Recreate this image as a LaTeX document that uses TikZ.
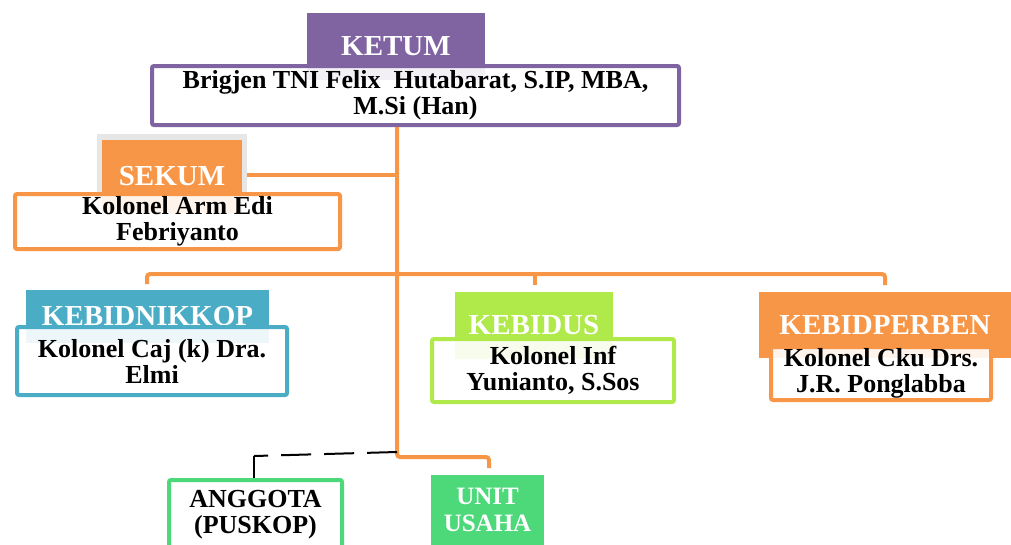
\documentclass[tikz,border=0pt]{standalone}
\usepackage{fontspec}
\setmainfont{Liberation Serif}
\definecolor{ketumpurple}{HTML}{8064A2}
\definecolor{sekumorange}{HTML}{F79646}
\definecolor{nikteal}{HTML}{4BACC6}
\definecolor{usgreen}{HTML}{AFE94A}
\definecolor{unitgreen}{HTML}{4DD87A}
\definecolor{shadowgray}{HTML}{E6E6E6}
\newcommand\headfont{\bfseries\fontsize{29}{31}\selectfont}
\newcommand\bodyfont{\bfseries\fontsize{26}{26}\selectfont}
\begin{document}
\begin{tikzpicture}[x=1pt,y=-1pt,
  head/.style={fill=#1,text=white,font=\headfont,inner sep=0pt,align=center},
  body/.style={draw=#1,line width=4pt,fill=white,fill opacity=0.9,text opacity=1,
    rounded corners=2pt,inner sep=0pt,align=center,font=\bodyfont},
  link/.style={draw=sekumorange,line width=4pt,rounded corners=3pt}]
\useasboundingbox (0,0) rectangle (1011,544);
% ketum
\node[head=ketumpurple,minimum width=178,minimum height=67] (ketumhead) at (396,46.5) {KETUM};
\node[body=ketumpurple,minimum width=527,minimum height=59] (ketumbody) at (415.5,95.5)
  {Brigjen TNI Felix~ Hutabarat, S.IP, MBA,\\M.Si (Han)};
% sekum
\node[fill=shadowgray,minimum width=150,minimum height=79,inner sep=0pt] (sekumshadow) at (172,173.5) {};
\node[head=sekumorange,minimum width=140,minimum height=73] (sekumhead) at (172,176.5) {SEKUM};
\node[body=sekumorange,minimum width=325,minimum height=55] (sekumbody) at (177.5,221.5)
  {Kolonel Arm Edi\\Febriyanto};
% kebid
\node[head=nikteal,minimum width=243,minimum height=53] (nikhead) at (147.5,316.5) {KEBIDNIKKOP};
\node[body=nikteal,minimum width=270,minimum height=68] (nikbody) at (152,361)
  {Kolonel Caj (k) Dra.\\Elmi};
\node[head=usgreen,minimum width=158,minimum height=67] (ushead) at (534,325.5) {KEBIDUS};
\node[body=usgreen,minimum width=242,minimum height=63] (usbody) at (553,370.5)
  {Kolonel Inf\\Yunianto, S.Sos};
\node[head=sekumorange,minimum width=252,minimum height=66] (perbenhead) at (885,325) {KEBIDPERBEN};
\node[body=sekumorange,minimum width=220,minimum height=53] (perbenbody) at (881,373.5)
  {Kolonel Cku Drs.\\J.R. Ponglabba};
% bawah
\node[body=unitgreen,minimum width=173,minimum height=70] (anggota) at (255.5,515)
  {ANGGOTA\\(PUSKOP)};
\node[head=unitgreen,minimum width=113,minimum height=70,font=\bfseries\fontsize{25}{27}\selectfont] (unitusaha) at (487.5,510)
  {UNIT\\USAHA};
% garis
\coordinate (trunk) at (397,457);
\coordinate (sekumjoin) at (397,175);
\coordinate (bus) at (397,274);
\coordinate (nikdrop) at (147,284);
\coordinate (usdrop) at (535,285);
\coordinate (perbendrop) at (885,285);
\coordinate (unitdrop) at (489,468);
\coordinate (anggotajoin) at (254,456);
\draw[link] (ketumbody.south -| trunk) -- (trunk) -| (unitdrop);
\draw[link] (sekumshadow.east |- sekumjoin) -- (sekumjoin);
\draw[link] (nikdrop) -- (nikdrop |- bus) -- (perbendrop |- bus) -- (perbendrop);
\draw[link] (usdrop) -- (usdrop |- bus);
\draw[line width=2pt,dash pattern=on 30pt off 13pt] (397,452) -- (anggotajoin);
\draw[line width=2pt] (anggotajoin) -- (anggota.north -| anggotajoin);
\end{tikzpicture}
\end{document}
